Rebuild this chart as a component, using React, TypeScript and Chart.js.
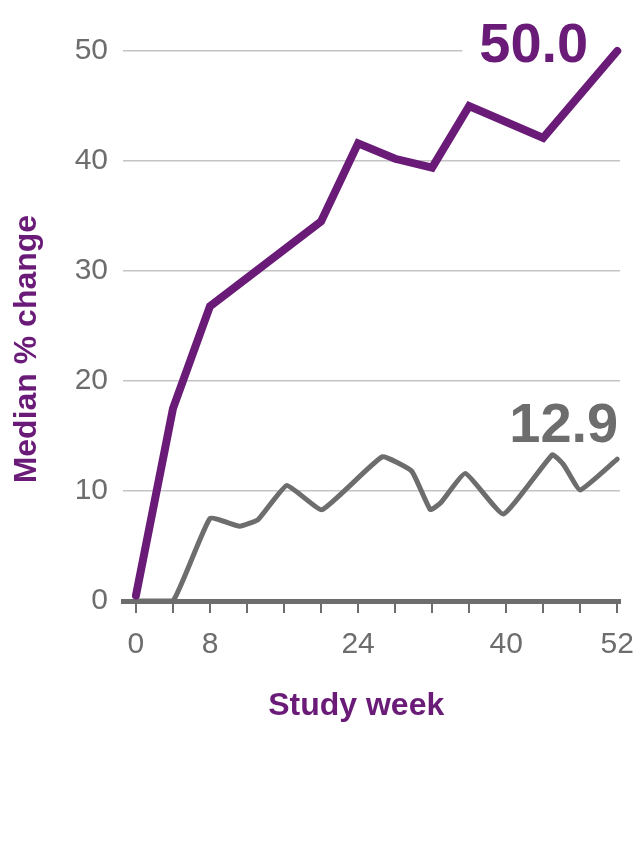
import React, { useEffect, useRef } from "react";
import { Chart, registerables } from "chart.js";
Chart.register(...registerables);

const weeksTreated = [0, 4, 8, 20, 24, 28, 32, 36, 44, 52];
const valuesTreated = [0.5, 17.5, 26.8, 34.5, 41.6, 40.2, 39.4, 45.0, 42.1, 50.0];

const weeksControl = [0, 4, 8, 11.2, 13.2, 16.3, 20.1, 26.6, 29.8, 31.8, 32.9, 35.6, 39.7, 45, 46.2, 48, 52];
const valuesControl = [0, 0, 7.5, 6.8, 7.4, 10.5, 8.3, 13.1, 11.8, 8.3, 8.9, 11.6, 7.9, 13.3, 12.4, 10.1, 12.9];

const xTickValues = [0, 4, 8, 12, 16, 20, 24, 28, 32, 36, 40, 44, 48, 52];
const xTickLabels = [0, 8, 24, 40, 52];
const yTickValues = [0, 10, 20, 30, 40, 50];
const endLabels = ["50.0", "12.9"];
const xTitle = "Study week";
const yTitle = "Median % change";

const PURPLE = "#6a1b78";
const GRAY = "#6d6d6d";
const FONT = "'Liberation Sans', Arial, sans-serif";

export default function App() {
  const ref = useRef<HTMLCanvasElement>(null);

  useEffect(() => {
    if (!ref.current) return;
    const labelPlugin = {
      id: "endLabels",
      beforeDatasetsDraw(chart: any) {
        const ctx = chart.ctx;
        const meta = chart.getDatasetMeta(0);
        const p = meta.data[meta.data.length - 1];
        ctx.save();
        ctx.fillStyle = "#ffffff";
        ctx.fillRect(p.x - 155, p.y - 40, 162, 55);
        ctx.restore();
      },
      afterDatasetsDraw(chart: any) {
        const ctx = chart.ctx;
        ctx.save();
        ctx.font = `bold 56px ${FONT}`;
        ctx.textAlign = "right";
        ctx.textBaseline = "alphabetic";
        const m0 = chart.getDatasetMeta(0);
        const p0 = m0.data[m0.data.length - 1];
        ctx.fillStyle = PURPLE;
        ctx.fillText(endLabels[0], p0.x - 29, p0.y + 11);
        const m1 = chart.getDatasetMeta(1);
        const p1 = m1.data[m1.data.length - 1];
        ctx.fillStyle = GRAY;
        ctx.fillText(endLabels[1], p1.x + 1, p1.y - 17);
        ctx.restore();
      },
      afterDraw(chart: any) {
        const ctx = chart.ctx;
        const xs = chart.scales.x;
        const ys = chart.scales.y;
        ctx.save();
        ctx.fillStyle = PURPLE;
        ctx.font = `bold 32px ${FONT}`;
        ctx.textAlign = "center";
        ctx.textBaseline = "middle";
        ctx.fillText(xTitle, xs.getPixelForValue(23.8), ys.bottom + 105);
        ctx.translate(27, ys.getPixelForValue(22.9));
        ctx.rotate(-Math.PI / 2);
        ctx.fillText(yTitle, 0, 0);
        ctx.restore();
      },
    };

    const chart = new Chart(ref.current, {
      type: "line",
      data: {
        datasets: [
          {
            data: weeksTreated.map((w, i) => ({ x: w, y: valuesTreated[i] })),
            borderColor: PURPLE,
            borderWidth: 8,
            pointRadius: 0,
            tension: 0,
            borderCapStyle: "round",
            borderJoinStyle: "miter",
            clip: false,
            fill: false,
          },
          {
            data: weeksControl.map((w, i) => ({ x: w, y: valuesControl[i] })),
            borderColor: GRAY,
            borderWidth: 5,
            pointRadius: 0,
            tension: 0.12,
            borderCapStyle: "round",
            borderJoinStyle: "round",
            clip: false,
            fill: false,
          },
        ],
      },
      options: {
        responsive: false,
        animation: false,
        layout: { padding: { top: 51, right: 17, bottom: 124, left: 0 } },
        plugins: { legend: { display: false }, tooltip: { enabled: false } },
        scales: {
          x: {
            type: "linear",
            min: -1.4,
            max: 52.3,
            afterBuildTicks: (s: any) => {
              s.ticks = xTickValues.map((v) => ({ value: v }));
            },
            afterFit: (s: any) => {
              s.height = 124;
              s.paddingLeft = 0;
              s.paddingRight = 0;
            },
            ticks: {
              callback: (v: any) => (xTickLabels.includes(Number(v)) ? String(v) : ""),
              font: { size: 30, family: FONT },
              color: GRAY,
              padding: 14,
              maxRotation: 0,
              autoSkip: false,
            },
            grid: { drawOnChartArea: false, drawTicks: true, tickLength: 12, color: GRAY, lineWidth: 2 },
            border: { display: true, color: GRAY, width: 5 },
            title: { display: false },
          },
          y: {
            min: 0,
            max: 50,
            afterBuildTicks: (s: any) => {
              s.ticks = yTickValues.map((v) => ({ value: v }));
            },
            afterFit: (s: any) => {
              s.width = 123;
              s.paddingTop = 0;
              s.paddingBottom = 0;
            },
            ticks: { font: { size: 30, family: FONT }, color: GRAY, padding: 15 },
            grid: { color: "#c4c4c4", lineWidth: 1.5, drawTicks: false },
            border: { display: false },
            title: { display: false },
          },
        },
      },
      plugins: [labelPlugin],
    } as any);
    return () => chart.destroy();
  }, []);

  return (
    <div style={{ position: "fixed", left: 0, top: 0, width: 637, height: 849, background: "#fff" }}>
      <canvas ref={ref} width={637} height={849} style={{ display: "block" }} />
    </div>
  );
}
